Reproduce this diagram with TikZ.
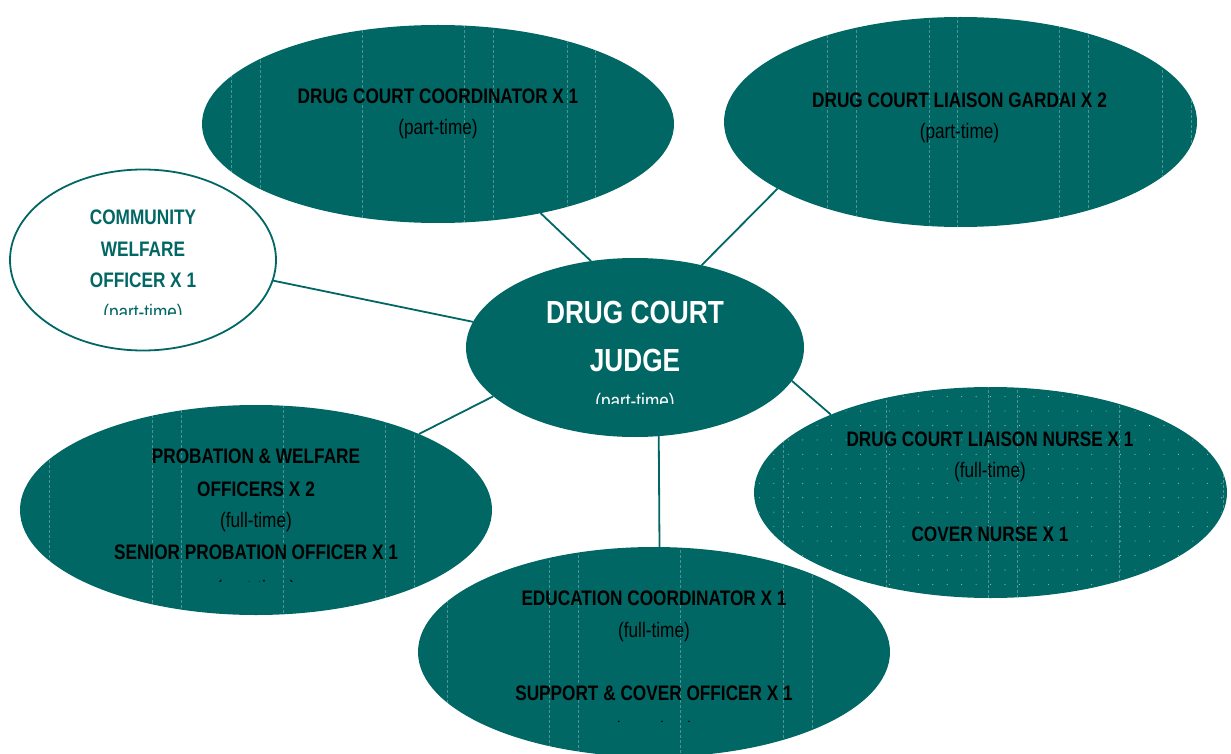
\documentclass[tikz,border=0pt]{standalone}
\usepackage{fontspec}
\setmainfont{Liberation Sans}[FakeStretch=0.82]
\usetikzlibrary{shapes.geometric}
\definecolor{teal0}{RGB}{0,103,100}
\tikzset{
  blob/.style={ellipse, fill=teal0, draw=none, inner sep=0pt, outer sep=0pt},
  ring/.style={ellipse, draw=teal0, line width=1.8pt, fill=white, inner sep=0pt, outer sep=0pt},
  link/.style={draw=teal0, line width=1.8pt},
  ttl/.style={anchor=base, inner sep=0pt, font=\fontsize{21}{25}\selectfont\bfseries},
  sub/.style={anchor=base, inner sep=0pt, font=\fontsize{21}{25}\selectfont},
  big/.style={anchor=base, inner sep=0pt, text=white, font=\fontsize{32}{38}\selectfont\bfseries},
  streak/.style={draw=white, opacity=0.3, line width=0.5pt, dash pattern=on 3pt off 2pt},
  speck/.style={fill=white, opacity=0.6},
}
\begin{document}
\begin{tikzpicture}[x=1pt,y=-1pt]
\useasboundingbox (0,0) rectangle (1231,754);

% ellipses
\node[blob, minimum width=472pt, minimum height=198pt] (coord) at (438,124) {};
\node[blob, minimum width=473pt, minimum height=210pt] (gardai) at (960.5,122) {};
\node[ring, minimum width=266pt, minimum height=181pt] (cwo) at (143,260) {};
\node[blob, minimum width=338pt, minimum height=179pt] (judge) at (635,347.5) {};
\node[blob, minimum width=472pt, minimum height=210pt] (prob) at (256,510) {};
\node[blob, minimum width=473pt, minimum height=211pt] (nurse) at (990.5,492.5) {};
\node[blob, minimum width=472pt, minimum height=210pt] (edu) at (654,652) {};

% faint streaks
\begin{scope}
  \clip (438,124) ellipse [x radius=236pt, y radius=99pt];
  \foreach \x in {231,260,362,464,493,567,595} \draw[streak] (\x,0) -- (\x,754);
\end{scope}
\begin{scope}
  \clip (960.5,122) ellipse [x radius=236.5pt, y radius=105pt];
  \foreach \x in {827,856,929,957,1059,1088,1162,1191} \draw[streak] (\x,0) -- (\x,754);
\end{scope}
\begin{scope}
  \clip (256,510) ellipse [x radius=236pt, y radius=105pt];
  \foreach \x in {49,152,181,283,385,414} \draw[streak] (\x,0) -- (\x,754);
\end{scope}
\begin{scope}
  \clip (654,652) ellipse [x radius=236pt, y radius=105pt];
  \foreach \x in {447,549,578,680,783,812} \draw[streak] (\x,0) -- (\x,754);
\end{scope}
\begin{scope}
  \clip (990.5,492.5) ellipse [x radius=236.5pt, y radius=105.5pt];
  \foreach \x in {783,886,988,1017,1119,1223} \draw[streak] (\x,0) -- (\x,754);
  \foreach \i in {0,...,32} \foreach \j in {0,...,15}
    \fill[speck] (759.35+\i*14.45, 382.15+\j*14.45) circle (0.55pt);
\end{scope}

% connectors
\draw[link] (coord.-41.7) -- (judge.117.5);
\draw[link] (gardai.200.9) -- (judge.51.8);
\draw[link] (cwo.-9.5) -- (judge.171.1);
\draw[link] (prob.25) -- (judge.199.7);
\draw[link] (nurse.154.2) -- (judge.-12.1);
\draw[link] (edu.87.3) -- (judge.-75);

% texts
\node[ttl] (coordA) at (438,103.5) {DRUG COURT COORDINATOR X 1};
\node[sub] (coordB) at (438,135) {(part-time)};

\node[ttl] (gardaiA) at (959.5,107.7) {DRUG COURT LIAISON GARDAI X 2};
\node[sub] (gardaiB) at (959.5,139) {(part-time)};

\node[ttl, text=teal0] (cwoA) at (143,224) {COMMUNITY};
\node[ttl, text=teal0] (cwoB) at (143,256) {WELFARE};
\node[ttl, text=teal0] (cwoC) at (143,287.5) {OFFICER X 1};
\begin{scope}
  \clip (0,0) rectangle (1231,314);
  \node[sub, text=teal0] (cwoD) at (143,319) {(part-time)};
\end{scope}

\node[big] (judgeA) at (635,323.3) {DRUG COURT};
\node[big] (judgeB) at (635,371) {JUDGE};
\begin{scope}
  \clip (0,0) rectangle (1231,403.3);
  \node[sub, text=white] (judgeC) at (635,408.6) {(part-time)};
\end{scope}

\node[ttl] (probA) at (256,463.3) {PROBATION \& WELFARE};
\node[ttl] (probB) at (256,496.7) {OFFICERS X 2};
\node[sub] (probC) at (256,527.5) {(full-time)};
\node[ttl] (probD) at (256,559.3) {SENIOR PROBATION OFFICER X 1};
\begin{scope}
  \clip (0,0) rectangle (1231,581.7);
  \node[sub] (probE) at (256,595) {(part-time)};
\end{scope}

\node[ttl] (nurseA) at (990,446) {DRUG COURT LIAISON NURSE X 1};
\node[sub] (nurseB) at (990,477.5) {(full-time)};
\node[ttl] (nurseC) at (990,541.3) {COVER NURSE X 1};

\node[ttl] (eduA) at (654,605.7) {EDUCATION COORDINATOR X 1};
\node[sub] (eduB) at (654,637) {(full-time)};
\node[ttl] (eduC) at (654,700.7) {SUPPORT \& COVER OFFICER X 1};
\begin{scope}
  \clip (0,0) rectangle (1231,721.7);
  \node[sub] (eduD) at (654,736.5) {(part-time)};
\end{scope}
\end{tikzpicture}
\end{document}
